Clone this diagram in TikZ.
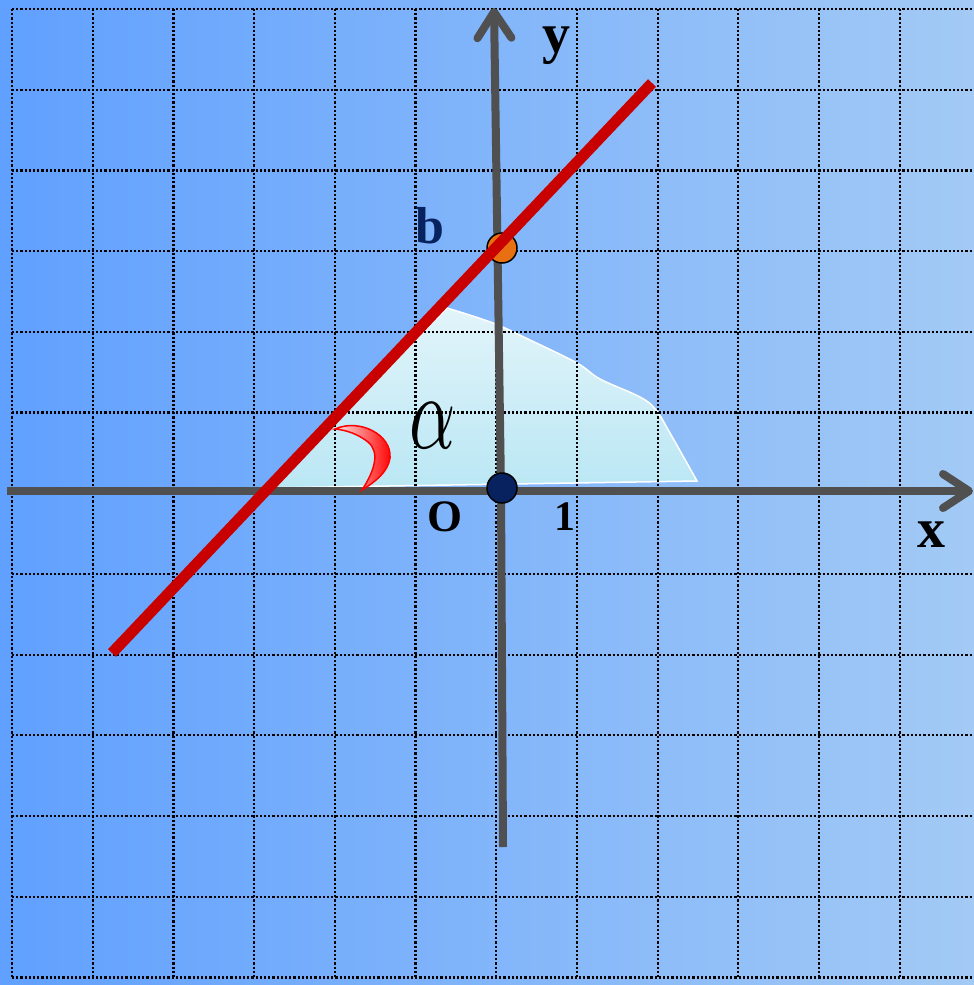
\documentclass[tikz,border=0pt]{standalone}
\usepackage{fontspec}
\setmainfont{Liberation Serif}
\usepackage{graphicx}
\usetikzlibrary{arrows.meta}
\definecolor{bgleft}{RGB}{96,160,255}
\definecolor{bgmid}{RGB}{125,187,255}
\definecolor{bgright}{RGB}{163,202,245}
\definecolor{axisgray}{RGB}{80,80,80}
\definecolor{linered}{RGB}{200,0,0}
\definecolor{navy}{RGB}{8,34,96}
\definecolor{dotorange}{RGB}{232,112,16}
\definecolor{regiontop}{RGB}{226,244,250}
\definecolor{regionbot}{RGB}{186,231,244}
\begin{document}
\begin{tikzpicture}[x=1pt, y=-1pt,
    gridline/.style={black, line width=2.2pt, dash pattern=on 2.2pt off 2pt},
    axisline/.style={axisgray, line width=8pt, -{Straight Barb[length=26pt, width=34pt, round]}},
    redline/.style={linered, line width=11pt},
    dotnode/.style={circle, draw=black, line width=1.5pt, minimum size=30pt, inner sep=0pt},
    axislabel/.style={font=\bfseries\fontsize{56}{56}\selectfont, inner sep=0pt}]
    \useasboundingbox (0,0) rectangle (974,985);

    % Background
    \fill[left color=bgleft, middle color=bgmid, right color=bgright] (0,0) rectangle (974,985);

    % Light region under the line
    \draw[white, line width=1.5pt, top color=regiontop, bottom color=regionbot]
        (266,488) -- plot[smooth, tension=0.6] coordinates {(447,308) (493,323) (530,340) (577,363)
        (600,379) (640,397) (656,410) (670,433) (697,481)} -- cycle;

    % Grid
    \foreach \i in {0,...,11}
        \draw[gridline] ({12+80.7*\i},9) -- ({12+80.7*\i},978);
    \foreach \j in {0,...,12}
        \draw[gridline] (12,{9+80.7*\j}) -- (974,{9+80.7*\j});

    % Axes
    \coordinate (xstart) at (7,491);
    \coordinate (xend) at (973,491);
    \coordinate (ybot) at (503,847);
    \coordinate (ybend) at (501,490);
    \coordinate (ytop) at (494,8);
    \draw[axisline] (xstart) -- (xend);
    \draw[axisline] (ybot) -- (ybend) -- (ytop);

    % Points
    \node[dotnode, fill=navy] (origin) at (502,488) {};
    \node[dotnode, fill=dotorange] (bpoint) at (502,248) {};

    % Line
    \coordinate (lstart) at (112,653);
    \coordinate (lend) at (652,83);
    \draw[redline] (lstart) -- (lend);

    % Angle mark
    \draw[red, line width=1.5pt, left color=red!10, right color=red]
        (335,429) .. controls (360,418) and (392,435) .. (390,458)
        .. controls (388,472) and (375,482) .. (362,490)
        .. controls (375,470) and (380,452) .. (368,442)
        .. controls (358,434) and (346,430) .. (335,429) -- cycle;

    % Labels
    \node[axislabel] (ylabel) at (556,46) {y};
    \node[axislabel] (xlabel) at (931,535) {x};
    \node[axislabel, navy, font=\bfseries\fontsize{52}{52}\selectfont] (blabel) at (430,226) {b};
    \node[axislabel, font=\bfseries\fontsize{45}{45}\selectfont] (olabel) at (445,517) {O};
    \node[axislabel, font=\bfseries\fontsize{42}{42}\selectfont] (onelabel) at (565,517) {1};
    \node[inner sep=0pt] (alabel) at (433,426) {\scalebox{7.2}[10.6]{$\alpha$}};

\end{tikzpicture}
\end{document}
